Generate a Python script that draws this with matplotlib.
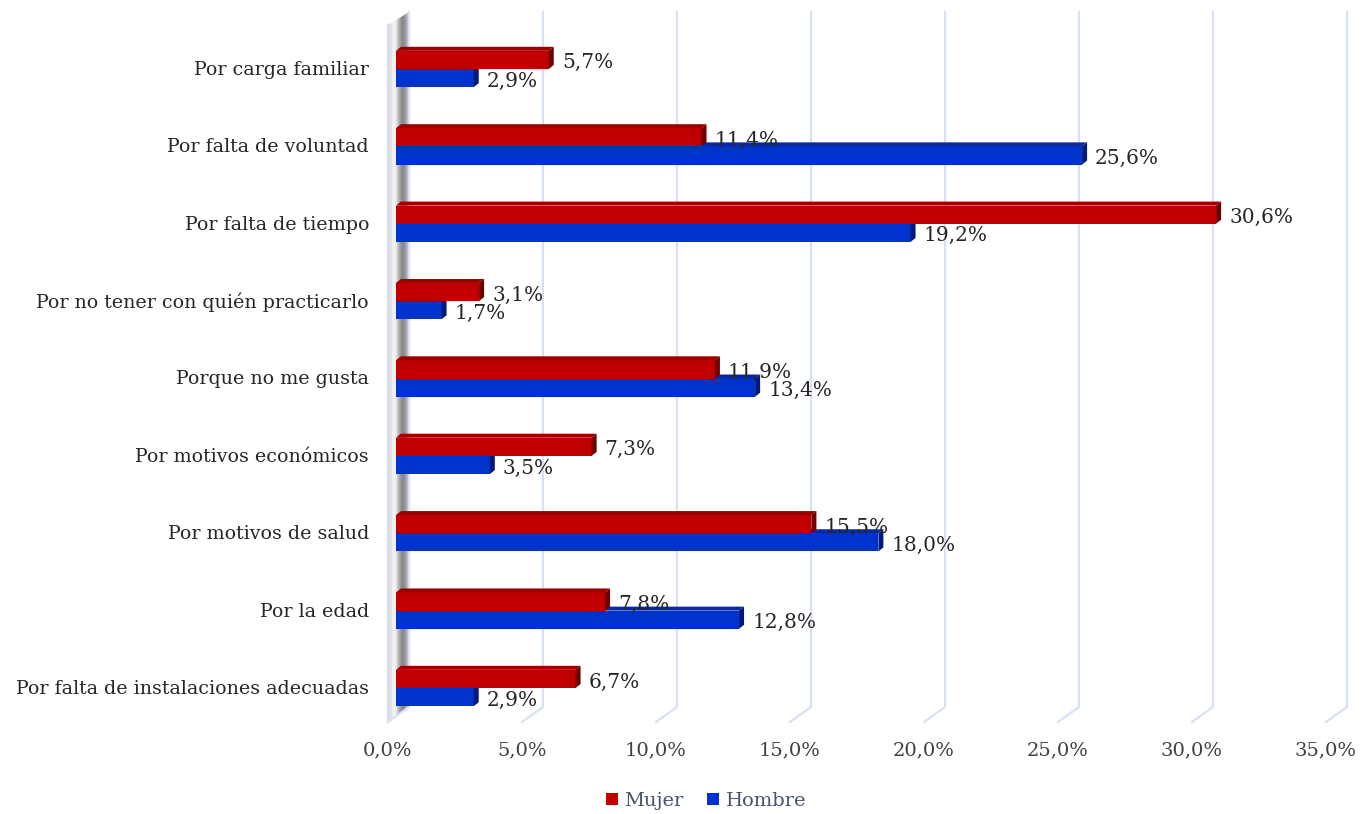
import numpy as np
import matplotlib.pyplot as plt
from matplotlib.patches import Polygon, Patch

categorias = ["Por carga familiar", "Por falta de voluntad", "Por falta de tiempo",
              "Por no tener con quién practicarlo", "Porque no me gusta",
              "Por motivos económicos", "Por motivos de salud", "Por la edad",
              "Por falta de instalaciones adecuadas"]
mujer = [5.7, 11.4, 30.6, 3.1, 11.9, 7.3, 15.5, 7.8, 6.7]
hombre = [2.9, 25.6, 19.2, 1.7, 13.4, 3.5, 18.0, 12.8, 2.9]
ticks = np.arange(0, 36, 5)

plt.rcParams['font.family'] = 'DejaVu Serif'
W, H = 1361, 814
fig = plt.figure(figsize=(W / 100, H / 100), dpi=100)

# background layer in pixel units (wall + 3d gridlines)
bg = fig.add_axes([0, 0, 1, 1], zorder=0)
bg.set_xlim(0, W)
bg.set_ylim(H, 0)
bg.axis('off')

ax = fig.add_axes([396 / W, 1 - 726.7 / H, 938 / W, 696.4 / H], zorder=1)
ax.set_xlim(0, 35)
ax.set_ylim(8.5, -0.5)
ax.axis('off')

def xpix(v):
    return ax.transData.transform((v, 0))[0]

grid_c = '#D6E2F4'
# left wall with a metallic gradient
x0 = xpix(0)
wall = Polygon([(x0 - 8, 25), (x0 + 13, 12), (x0 + 13, 707), (x0 - 8, 722)],
               closed=True, facecolor='none', edgecolor='none')
bg.add_patch(wall)
grad = np.array([0.84, 0.90, 0.97, 0.93, 0.72, 0.58, 0.52, 0.60, 0.78])[None, :]
img = bg.imshow(grad, cmap='gray', vmin=0, vmax=1, aspect='auto',
                extent=(x0 - 8, x0 + 13, 722, 12), interpolation='bicubic')
img.set_clip_path(wall)
bg.plot([x0 - 8, x0 - 8], [25, 722], color=grid_c, lw=1.6)

for v in ticks:
    xb = xpix(v) + 13
    bg.plot([xb, xb, xb - 21], [12, 707, 722], color=grid_c, lw=1.6)
    bg.text(xb - 21, 750, f"{v:.1f}%".replace('.', ','), ha='center', va='center',
            fontsize=14, color='#404040')

# bars with 3d depth faces
h = 0.235
bx, by = 5, 4  # depth in pixels
ux = ax.get_position().width * W / 35
uy = ax.get_position().height * H / 9
ddx, ddy = bx / ux, by / uy
y = np.arange(len(categorias))

def depth(vals, ys, top_c, side_c, z):
    for v, yc in zip(vals, ys):
        t, b = yc - h / 2, yc + h / 2
        ax.add_patch(Polygon([(0, t), (v, t), (v + ddx, t - ddy), (ddx, t - ddy)],
                             facecolor=top_c, edgecolor='none', zorder=z))
        ax.add_patch(Polygon([(v, t), (v, b), (v + ddx, b - ddy), (v + ddx, t - ddy)],
                             facecolor=side_c, edgecolor='none', zorder=z))

ax.barh(y + h / 2, hombre, height=h, color='#0033CC', zorder=2)
depth(hombre, y + h / 2, '#0A2A9A', '#001A80', 2)
ax.barh(y - h / 2, mujer, height=h, color='#C00000', zorder=3)
depth(mujer, y - h / 2, '#9A0000', '#700000', 3)

for vals, ys in ((mujer, y - h / 2), (hombre, y + h / 2)):
    for v, yc in zip(vals, ys):
        ax.annotate(f"{v:.1f}%".replace('.', ','), xy=(v, yc), xytext=(13, -3),
                    textcoords='offset pixels', ha='left', va='center',
                    fontsize=14.5, color='#262626', zorder=5)

for i, c in enumerate(categorias):
    ax.annotate(c, xy=(0, i), xytext=(-27, -1), textcoords='offset pixels',
                ha='right', va='center', fontsize=13.7, color='#262626')

handles = [Patch(facecolor='#C00000'), Patch(facecolor='#0033CC')]
leg = fig.legend(handles, ['Mujer', 'Hombre'], loc='center', ncol=2,
                 bbox_to_anchor=(706 / W, 1 - 801 / H), frameon=False,
                 handlelength=0.6, handleheight=0.6, handletextpad=0.35,
                 columnspacing=1.2, fontsize=14)
for t in leg.get_texts():
    t.set_color('#44546A')

fig.savefig('out.png', dpi=100)
